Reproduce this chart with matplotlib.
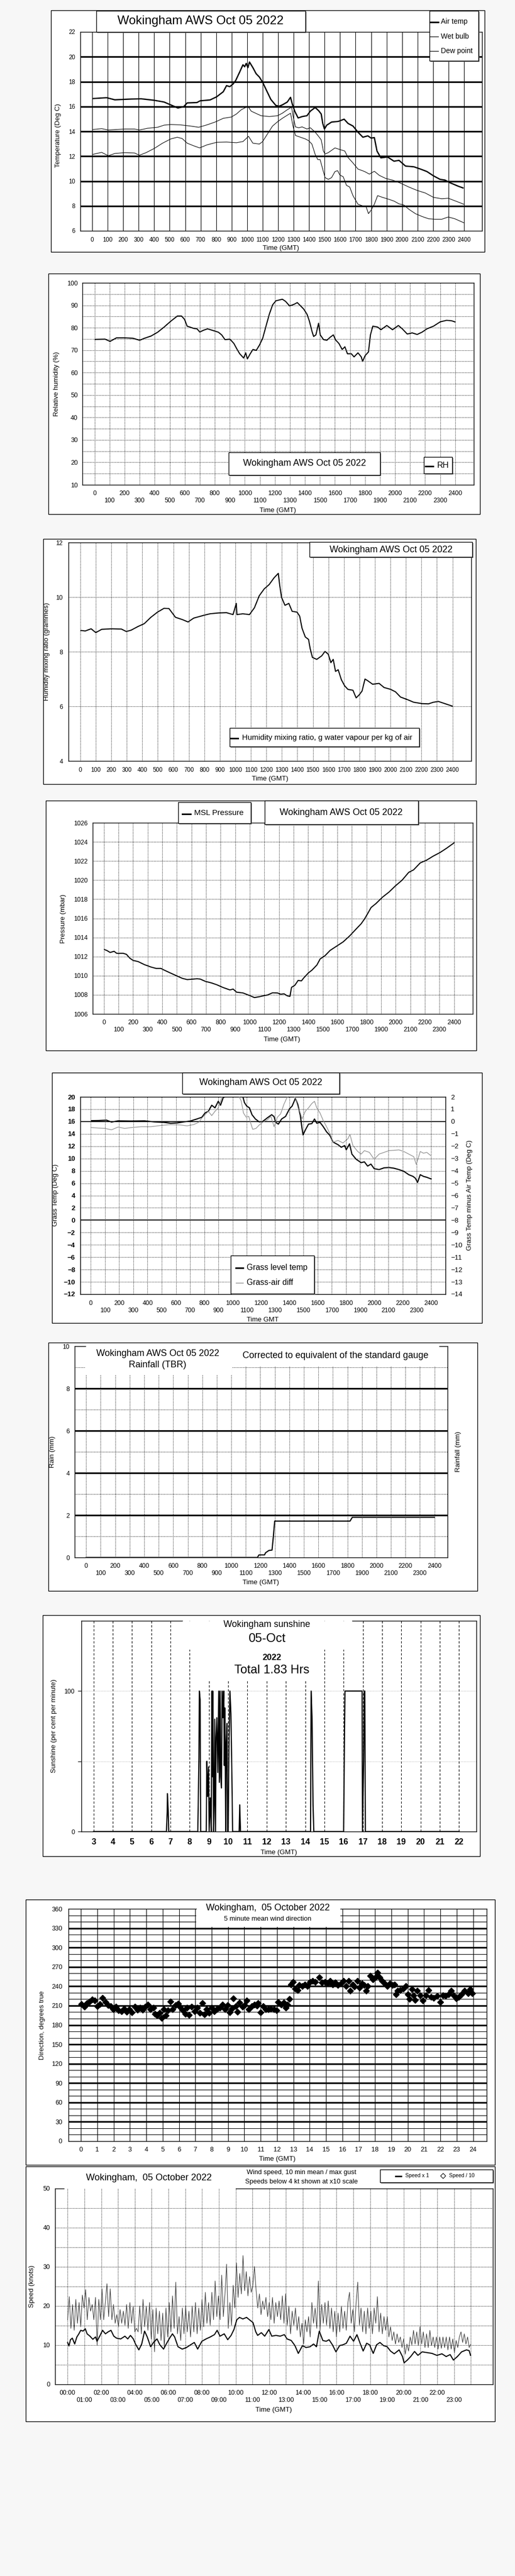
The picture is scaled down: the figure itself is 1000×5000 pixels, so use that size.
import numpy as np
import matplotlib
matplotlib.use("Agg")
import matplotlib.pyplot as plt
from matplotlib.patches import Rectangle
from matplotlib.lines import Line2D

plt.rcParams['font.family'] = ['Liberation Sans', 'DejaVu Sans']

# -----------------------------
# Data (time axis 0..2400 = hhmm style, 100 per hour)
# -----------------------------
air_t = [4, 93, 146, 252, 316, 401, 464, 507, 553, 591, 613, 676, 697, 761, 803, 846, 867, 888, 909, 926,
         952, 973, 984, 994, 1005, 1015, 1037, 1058, 1079, 1100, 1121, 1153, 1185, 1206, 1227, 1259, 1280,
         1291, 1308, 1329, 1355, 1386, 1408, 1439, 1461, 1478, 1488, 1499, 1514, 1545, 1588, 1626, 1651,
         1683, 1715, 1747, 1779, 1800, 1821, 1838, 1863, 1906, 1948, 1980, 2022, 2076, 2118, 2160, 2203,
         2245, 2277, 2309, 2362, 2393]
air_temp = [16.64, 16.71, 16.54, 16.6, 16.62, 16.5, 16.36, 16.13, 15.88, 15.99, 16.29, 16.32, 16.46, 16.53,
            16.78, 17.19, 17.68, 17.6, 17.81, 18.09, 18.78, 19.36, 19.2, 19.47, 19.13, 19.58, 19.13, 18.64,
            18.37, 17.95, 17.4, 16.57, 16.09, 16.02, 16.13, 16.36, 16.74, 16.22, 15.6, 15.08, 15.19, 15.26,
            15.63, 15.92, 15.67, 15.4, 14.64, 14.19, 14.5, 14.75, 14.8, 14.98, 14.64, 14.43, 13.94, 13.53,
            13.64, 13.46, 13.5, 12.42, 11.87, 11.94, 11.6, 11.67, 11.21, 11.15, 10.97, 10.77, 10.42, 10.14,
            10.08, 9.87, 9.59, 9.45]

wb_t = [4, 61, 104, 210, 273, 305, 358, 422, 464, 507, 570, 634, 687, 740, 793, 846, 899, 931, 962, 984,
        1005, 1026, 1058, 1090, 1143, 1196, 1227, 1259, 1287, 1297, 1312, 1333, 1355, 1386, 1408, 1439, 1461,
        1478, 1492, 1503, 1524, 1567, 1598, 1630, 1651, 1683, 1715, 1758, 1789, 1821, 1853, 1895, 1938, 1991,
        2044, 2097, 2150, 2203, 2256, 2298, 2340, 2398]
wet_bulb = [14.15, 14.22, 14.11, 14.19, 14.19, 14.11, 14.25, 14.33, 14.5, 14.55, 14.52, 14.43, 14.33, 14.52,
            14.75, 15.05, 15.16, 15.4, 15.74, 15.88, 16.02, 15.63, 15.44, 15.26, 15.19, 15.26, 15.46, 15.74,
            15.95, 15.19, 14.36, 14.29, 14.36, 14.19, 14.29, 13.94, 13.6, 13.32, 12.42, 12.18, 12.29, 12.67,
            12.54, 12.42, 11.9, 11.46, 10.97, 10.77, 10.56, 10.79, 10.46, 10.21, 10.08, 9.83, 9.52, 9.25,
            9.04, 8.69, 8.58, 8.62, 8.42, 8.14]

dp_t = [4, 61, 104, 146, 210, 273, 305, 348, 401, 454, 507, 549, 581, 613, 655, 693, 740, 803, 867, 931,
        973, 1009, 1037, 1079, 1100, 1132, 1164, 1196, 1227, 1259, 1280, 1297, 1312, 1344, 1376, 1397, 1418,
        1439, 1456, 1471, 1486, 1503, 1524, 1545, 1567, 1584, 1598, 1620, 1641, 1662, 1683, 1715, 1747, 1768,
        1783, 1800, 1821, 1842, 1874, 1916, 1948, 1980, 2012, 2044, 2086, 2129, 2171, 2213, 2256, 2298,
        2340, 2398]
dew_point = [12.15, 12.31, 12.04, 12.22, 12.29, 12.26, 12.08, 12.29, 12.63, 13.05, 13.39, 13.53, 13.42,
             13.05, 12.84, 12.67, 12.91, 13.12, 13.14, 13.09, 13.18, 13.6, 13.05, 12.98, 13.18, 13.81, 14.43,
             14.77, 15.05, 15.3, 15.46, 14.36, 13.67, 13.53, 13.39, 13.25, 12.98, 12.15, 11.73, 11.73, 11.04,
             10.28, 10.14, 10.28, 10.77, 10.84, 10.49, 10.35, 9.66, 9.52, 8.83, 8.14, 8.0, 7.93, 7.38, 7.66,
             8.14, 8.83, 8.69, 8.53, 8.39, 8.17, 8.07, 7.73, 7.38, 7.15, 6.97, 6.93, 6.93, 7.11, 6.97, 6.65]

rh_t = [4, 70, 103, 146, 201, 256, 300, 332, 376, 420, 463, 507, 551, 579, 599, 616, 660, 682, 700, 726,
        752, 791, 824, 846, 868, 901, 927, 949, 966, 992, 1006, 1017, 1036, 1054, 1076, 1097, 1119, 1141,
        1163, 1185, 1207, 1250, 1272, 1298, 1327, 1349, 1370, 1392, 1414, 1430, 1447, 1458, 1473, 1491,
        1502, 1524, 1546, 1567, 1589, 1605, 1626, 1648, 1666, 1683, 1709, 1727, 1753, 1775, 1784, 1801,
        1823, 1836, 1852, 1884, 1906, 1945, 1983, 2022, 2048, 2081, 2114, 2147, 2179, 2212, 2256, 2300,
        2343, 2376, 2398]
rh = [74.8, 74.9, 73.9, 75.5, 75.5, 75.3, 74.4, 75.3, 76.3, 78.0, 80.3, 82.9, 85.2, 85.2, 83.7, 80.7, 79.7,
      79.5, 78.1, 78.9, 79.5, 78.7, 78.0, 76.8, 74.7, 74.9, 73.0, 70.3, 68.4, 66.5, 68.8, 66.1, 68.4, 70.3,
      69.9, 72.2, 75.3, 80.7, 86.0, 90.2, 92.0, 92.7, 91.7, 89.7, 90.4, 91.2, 89.8, 88.3, 86.0, 82.9, 78.4,
      76.1, 76.8, 82.0, 76.8, 74.7, 74.4, 75.7, 76.8, 74.5, 73.0, 70.3, 71.5, 68.4, 68.4, 67.0, 68.8, 67.0,
      65.0, 67.6, 69.2, 76.8, 80.7, 80.3, 79.1, 81.0, 79.1, 81.0, 79.5, 77.2, 77.7, 77.0, 78.0, 79.5, 80.7,
      82.6, 83.3, 83.1, 82.6]

mix_t = [4, 32, 70, 100, 138, 201, 265, 297, 328, 371, 413, 455, 498, 540, 572, 593, 614, 657, 695, 731,
         794, 837, 890, 943, 985, 1006, 1010, 1048, 1091, 1123, 1154, 1186, 1218, 1250, 1277, 1286, 1298,
         1320, 1345, 1366, 1398, 1415, 1430, 1451, 1472, 1483, 1497, 1525, 1557, 1578, 1599, 1616, 1631,
         1646, 1663, 1684, 1705, 1726, 1758, 1779, 1800, 1817, 1836, 1853, 1885, 1927, 1959, 2002, 2033,
         2065, 2108, 2150, 2203, 2245, 2277, 2309, 2340, 2372, 2398]
mix = [8.78, 8.76, 8.84, 8.70, 8.82, 8.84, 8.83, 8.74, 8.79, 8.92, 9.03, 9.26, 9.45, 9.59, 9.58, 9.42, 9.26,
       9.18, 9.09, 9.23, 9.33, 9.39, 9.42, 9.43, 9.36, 9.77, 9.36, 9.39, 9.36, 9.61, 10.05, 10.30, 10.46,
       10.71, 10.87, 10.43, 9.99, 9.70, 9.77, 9.48, 9.45, 9.30, 8.86, 8.54, 8.45, 8.10, 7.79, 7.72, 7.85,
       8.01, 7.91, 7.60, 7.72, 7.28, 7.34, 6.97, 6.75, 6.62, 6.59, 6.31, 6.43, 6.56, 7.0, 6.94, 6.81, 6.84,
       6.69, 6.62, 6.53, 6.34, 6.25, 6.15, 6.10, 6.09, 6.15, 6.18, 6.12, 6.06, 6.01]

pres_t = [4, 20, 43, 70, 88, 133, 155, 178, 200, 234, 279, 324, 358, 391, 414, 459, 504, 538, 571, 605, 639,
          661, 695, 740, 774, 819, 864, 886, 909, 954, 999, 1032, 1066, 1100, 1122, 1156, 1190, 1212, 1235,
          1257, 1275, 1286, 1309, 1331, 1354, 1370, 1403, 1426, 1460, 1482, 1516, 1550, 1595, 1640, 1685,
          1729, 1763, 1786, 1808, 1831, 1864, 1909, 1954, 1999, 2044, 2089, 2123, 2168, 2213, 2258, 2303,
          2348, 2400]
pressure = [1012.73, 1012.64, 1012.43, 1012.55, 1012.34, 1012.34, 1012.23, 1011.83, 1011.6, 1011.48, 1011.15,
            1010.9, 1010.76, 1010.76, 1010.58, 1010.26, 1009.95, 1009.72, 1009.59, 1009.63, 1009.68, 1009.64,
            1009.41, 1009.23, 1009.05, 1008.75, 1008.51, 1008.6, 1008.28, 1008.19, 1007.92, 1007.71, 1007.8,
            1007.92, 1007.98, 1008.21, 1008.19, 1008.06, 1008.1, 1007.89, 1007.83, 1008.78, 1009.0, 1009.5,
            1009.46, 1009.77, 1010.31, 1010.58, 1011.12, 1011.75, 1012.1, 1012.64, 1013.09, 1013.54, 1014.17,
            1014.89, 1015.43, 1015.93, 1016.5, 1017.13, 1017.54, 1018.21, 1018.75, 1019.41, 1020.0, 1020.81,
            1021.08, 1021.8, 1022.1, 1022.52, 1022.88, 1023.33, 1023.9]

grass_t = [5, 53, 111, 146, 192, 285, 378, 447, 517, 563, 609, 656, 702, 748, 783, 806, 829, 853, 876, 899,
           915, 934, 945, 957, 1026, 1073, 1084, 1100, 1119, 1137, 1161, 1188, 1212, 1246, 1276, 1293, 1304,
           1323, 1346, 1374, 1402, 1420, 1443, 1460, 1478, 1490, 1497, 1513, 1536, 1559, 1578, 1594, 1617,
           1640, 1663, 1686, 1710, 1744, 1767, 1791, 1802, 1825, 1842, 1872, 1907, 1930, 1953, 1976, 1999,
           2034, 2069, 2104, 2138, 2173, 2208, 2243, 2273, 2289, 2305, 2324, 2347, 2370, 2400]
grass_temp = [16.14, 16.16, 16.22, 15.91, 16.11, 16.08, 16.11, 15.94, 15.86, 15.72, 15.77, 15.94, 16.08,
              16.41, 16.69, 17.39, 17.66, 18.64, 18.22, 19.28, 18.64, 19.89, 20.0, 20.4, 20.6, 20.0, 19.05,
              18.5, 18.22, 17.11, 16.41, 15.94, 16.0, 16.61, 17.11, 16.78, 15.86, 15.58, 16.41, 16.83, 18.08,
              18.5, 19.75, 18.78, 16.97, 14.88, 13.83, 14.61, 15.58, 15.66, 16.41, 15.72, 15.86, 15.16, 14.33,
              13.77, 12.66, 12.24, 11.83, 12.1, 11.41, 12.38, 10.71, 9.88, 9.33, 9.46, 8.77, 9.1, 8.35, 8.21,
              8.49, 8.54, 8.43, 8.21, 7.93, 7.38, 7.1, 6.82, 6.13, 7.38, 7.1, 6.96, 6.69]

diff_t = [5, 53, 100, 146, 192, 239, 285, 355, 424, 493, 563, 632, 679, 725, 760, 783, 806, 829, 853, 876,
          899, 922, 934, 980, 1038, 1061, 1077, 1096, 1114, 1130, 1142, 1165, 1188, 1212, 1246, 1270, 1293,
          1316, 1339, 1362, 1386, 1397, 1420, 1443, 1462, 1478, 1490, 1513, 1536, 1559, 1578, 1594, 1617,
          1640, 1663, 1686, 1710, 1744, 1779, 1814, 1828, 1849, 1883, 1907, 1930, 1965, 1999, 2034, 2069,
          2104, 2138, 2173, 2208, 2243, 2278, 2296, 2324, 2347, 2370, 2400]
grass_air_diff = [-0.49, -0.53, -0.56, -0.67, -0.45, -0.56, -0.49, -0.42, -0.42, -0.32, -0.25, -0.28, -0.35,
                  -0.25, -0.07, 0.28, 0.55, 0.83, 0.48, 0.83, 1.11, 1.87, 2.3, 2.5, 2.2, 1.67, 0.69, 0.35,
                  0.42, -0.21, -0.63, -0.56, -0.28, -0.07, 0.14, 0.42, -0.42, 0.35, 0.62, 1.39, 2.0, 2.3, 2.15,
                  1.94, 1.11, 0.69, 0.21, 0.83, 1.11, 1.46, 1.64, 1.11, 0.69, 0.07, -0.42, -0.97, -1.67, -1.53,
                  -1.74, -1.39, -1.04, -1.95, -2.43, -2.64, -2.36, -2.5, -3.06, -2.64, -2.5, -2.36, -2.34, -2.3,
                  -2.43, -2.64, -2.85, -3.48, -2.43, -2.57, -2.5, -2.78]

rain_t = [0, 1180, 1191, 1229, 1236, 1259, 1281, 1290, 1299, 1818, 1834, 2400]
rain_mm = [0, 0, 0.12, 0.12, 0.22, 0.33, 0.35, 1.0, 1.72, 1.72, 1.9, 1.9]

# sunshine, hours GMT
sun_hr = [3.0, 6.79, 6.83, 6.84, 6.88, 6.91, 8.42, 8.45, 8.48, 8.5, 8.54, 8.57, 8.86, 8.89, 8.93, 8.98,
          9.01, 9.07, 9.12, 9.15, 9.18, 9.2, 9.24, 9.27, 9.3, 9.34, 9.37, 9.41, 9.46, 9.51, 9.54, 9.58, 9.61,
          9.65, 9.68, 9.73, 9.77, 9.8, 9.83, 9.87, 9.9, 9.94, 9.97, 10.0, 10.04, 10.09, 10.14, 10.19, 10.23,
          10.57, 10.6, 10.64, 14.28, 14.31, 14.36, 14.41, 14.45, 16.0, 16.04, 16.07, 16.96, 16.98, 17.04,
          17.07, 17.1, 17.13, 22.0]
sun_pct = [0, 0, 14, 27, 15, 0, 0, 26, 52, 100, 94, 0, 0, 50, 25, 46, 0, 24, 0, 100, 39, 100, 0, 19, 80, 0,
           67, 81, 42, 100, 35, 100, 39, 31, 100, 81, 100, 47, 88, 0, 63, 77, 0, 0, 61, 100, 84, 42, 0, 0, 19,
           0, 0, 100, 80, 19, 0, 0, 63, 100, 100, 0, 50, 100, 100, 0, 0]

# 5 minute mean wind direction, hours GMT
dir_hr = [0.03, 0.20, 0.36, 0.52, 0.68, 0.85, 1.01, 1.17, 1.33, 1.50, 1.66, 1.82, 1.99, 2.15, 2.31, 2.47,
          2.64, 2.80, 2.96, 3.12, 3.29, 3.45, 3.61, 3.77, 3.94, 4.10, 4.26, 4.43, 4.54, 4.67, 4.83, 4.93,
          5.08, 5.19, 5.32, 5.48, 5.61, 5.78, 5.94, 6.05, 6.22, 6.38, 6.49, 6.62, 6.78, 6.95, 7.11, 7.27,
          7.44, 7.57, 7.68, 7.84, 8.01, 8.17, 8.33, 8.49, 8.66, 8.82, 8.98, 9.11, 9.23, 9.32, 9.47, 9.58,
          9.71, 9.88, 10.01, 10.15, 10.28, 10.45, 10.61, 10.77, 10.85, 10.98, 11.15, 11.31, 11.47, 11.63,
          11.80, 11.96, 12.07, 12.24, 12.40, 12.53, 12.64, 12.76, 12.84, 12.97, 13.10, 13.26, 13.37, 13.54,
          13.70, 13.86, 14.03, 14.19, 14.35, 14.59, 14.76, 14.92, 15.08, 15.25, 15.41, 15.57, 15.73, 15.90,
          16.06, 16.22, 16.38, 16.48, 16.63, 16.74, 16.91, 17.04, 17.20, 17.33, 17.44, 17.56, 17.72, 17.85,
          18.01, 18.14, 18.26, 18.42, 18.58, 18.74, 18.91, 19.07, 19.18, 19.28, 19.39, 19.55, 19.72, 19.88,
          20.00, 20.09, 20.26, 20.37, 20.45, 20.58, 20.75, 20.91, 21.10, 21.27, 21.43, 21.59, 21.79, 21.98,
          22.16, 22.32, 22.49, 22.65, 22.81, 22.97, 23.14, 23.30, 23.46, 23.71, 23.82, 23.95]
dir_deg = [212, 208, 214, 216.5, 219.6, 217.6, 209, 212, 221.7, 215.7, 210.5, 209, 204.5, 208, 202.7, 201.4,
           205.3, 200, 204, 199.3, 208, 203.5, 206.6, 203.5, 208, 211.8, 204, 206.6, 197.5, 194.9, 198.8, 191,
           204, 194.9, 202.7, 216.5, 204, 210.5, 213, 208, 202.7, 197.5, 206.6, 195.6, 208, 201.4, 206.6,
           198.8, 214, 196.6, 204.5, 198.8, 206.6, 201.4, 204, 206.6, 211.8, 204, 210.5, 199.6, 205.3, 221,
           209, 200, 215, 208, 210.5, 217.8, 204, 209, 211.8, 209.7, 214, 199.3, 209, 204, 204, 205.3, 204,
           202.7, 215.7, 211.8, 214.4, 206.6, 211.8, 220, 243, 247, 236.6, 234, 241.8, 240.5, 243, 240.5, 247,
           248.3, 247, 253.6, 245.7, 247, 244.4, 248.3, 243, 245.7, 241.8, 244.4, 248.3, 240.5, 248.3, 233.2,
           243, 239.2, 248.3, 237.9, 244.4, 241.8, 232.7, 240.5, 256.2, 251, 253.6, 261.4, 253.6, 248.3,
           244.4, 240.5, 244.4, 241.8, 243, 227.5, 232.7, 234, 236.6, 240.5, 227.5, 220, 235.3, 226.2, 219,
           232.7, 226.2, 217.6, 226.2, 234, 223.6, 222.3, 224.9, 215.7, 226.2, 224.9, 227.5, 232.7, 226.2,
           221, 223.6, 227.5, 232.7, 228.8, 235.3, 228.8]

# 10 min mean wind speed, hours GMT
mean_hr = [0.0, 0.08, 0.17, 0.28, 0.42, 0.55, 0.67, 0.78, 0.92, 1.05, 1.16, 1.33, 1.5, 1.66, 1.75, 1.91,
           2.08, 2.25, 2.41, 2.58, 2.75, 2.91, 3.16, 3.41, 3.58, 3.74, 3.91, 4.04, 4.24, 4.41, 4.58, 4.74,
           4.94, 5.11, 5.32, 5.49, 5.71, 5.87, 6.07, 6.24, 6.37, 6.57, 6.82, 7.07, 7.32, 7.54, 7.74, 7.99,
           8.24, 8.49, 8.74, 8.9, 9.07, 9.32, 9.53, 9.73, 9.9, 10.07, 10.23, 10.43, 10.65, 10.82, 11.03, 11.2,
           11.31, 11.53, 11.73, 11.98, 12.15, 12.4, 12.65, 12.9, 13.06, 13.31, 13.53, 13.73, 13.98, 14.19,
           14.43, 14.64, 14.81, 14.98, 15.19, 15.39, 15.56, 15.76, 15.97, 16.19, 16.39, 16.59, 16.81, 17.02,
           17.22, 17.39, 17.59, 17.8, 17.97, 18.19, 18.39, 18.59, 18.8, 19.02, 19.22, 19.44, 19.73, 19.93,
           20.03, 20.22, 20.42, 20.65, 20.85, 21.1, 21.4, 21.69, 21.98, 22.28, 22.53, 22.77, 22.96, 23.2,
           23.45, 23.74, 23.9, 23.98]
mean_kt = [10.7, 9.8, 11.4, 11.8, 10.3, 12.1, 12.9, 13.8, 13.6, 14.2, 12.9, 12.3, 11.5, 12.1, 11.0, 12.3,
           13.8, 12.9, 13.4, 13.8, 12.3, 11.8, 11.6, 12.3, 11.6, 12.5, 11.6, 10.3, 8.8, 10.3, 13.6, 12.1, 9.6,
           10.7, 11.6, 10.1, 9.0, 10.3, 11.8, 12.9, 12.1, 9.6, 9.0, 9.4, 10.1, 10.7, 9.0, 11.0, 11.6, 12.1,
           12.7, 13.8, 12.3, 12.9, 11.4, 12.5, 14.0, 16.5, 17.1, 16.7, 17.1, 16.5, 15.8, 13.4, 12.5, 13.2,
           12.3, 14.0, 12.3, 12.5, 12.3, 12.7, 11.6, 11.2, 9.9, 7.9, 9.9, 9.4, 9.6, 10.3, 9.6, 13.6, 11.2,
           11.0, 11.4, 10.1, 8.3, 9.9, 10.1, 10.5, 12.3, 11.0, 12.7, 10.7, 8.5, 10.5, 10.1, 7.9, 10.1, 10.7,
           9.9, 9.6, 8.5, 7.8, 8.8, 7.1, 5.5, 6.2, 7.1, 8.4, 7.4, 8.3, 8.1, 7.9, 7.4, 7.8, 7.1, 7.6, 6.2, 7.1,
           8.3, 8.8, 8.6, 7.4]

# max gust, sampled about every 6 minutes from 00:00 to 24:00
gust_kt = [16.5, 22.4, 14.3, 20.4, 13.8, 21.7, 15.6, 20.9, 14.7, 22.8, 19.5, 24.2, 16.5, 22.2, 18.7, 20.4,
           16.5,
           22.2, 9.9, 21.7, 16.5, 24.4, 16.5, 20.9, 25.7, 17.3, 24.4,
           16.5, 20.4, 15.6, 17.8, 14.7, 19.1, 15.6, 18.7, 15.1, 20.4,
           14.3, 20.9, 15.6, 20, 13.4, 14.3, 13.4, 20, 12.9, 21.7,
           14.7, 20, 13.8, 20.9, 11.6, 19.1, 8.3, 19.5, 12.9, 18.7,
           11.2, 18.2, 9.4, 19.5, 12.1, 20.9, 13.4, 22.6, 14.3, 26.1,
           12.9, 17.3, 11.2, 19.5, 12.9, 20, 13.4, 18.7, 12.1, 20,
           13.4, 20.9, 12.9, 19.5, 13.8, 21.7, 14.7, 23.5, 15.6, 20.9,
           15.1, 23.5, 16.5, 26.4, 17.3, 22.6, 16.5, 27.9, 17.3, 23.1,
           30.7, 14.3, 20.9, 15.1, 25.3, 19.5, 31.0, 22.2, 28.3, 23.1,
           32.9, 23.9, 28.8, 22.6, 27.5, 23.5, 25.3, 30.1, 23.9, 19.5,
           23.1, 17.8, 21.3, 19.1, 22.2, 17.3, 20.9, 16.5, 22.2, 15.6,
           20.9, 17.3, 21.3, 16.5, 22.6, 15.6, 23.1, 15.1, 20, 12.9,
           18.7, 15.1, 19.5, 13.8, 17.3, 12.1, 15.6, 10.3, 16.5, 13.4,
           17.3, 12.1, 20.9, 15.6, 19.5, 14.3, 26.4, 13.8, 20.4, 15.6,
           20.9, 15.1, 21.3, 14.3, 19.5, 13.4, 18.7, 12.1, 18.2, 13.4,
           20, 14.3, 18.7, 13.8, 20.9, 23.5, 15.6, 19.1, 13.4, 20.9,
           26.1, 15.1, 19.5, 13.4, 18.7, 12.9, 19.5, 14.3, 18.7, 12.9,
           19.5, 15.6, 22.4, 13.4, 18.2, 12.9, 17.3, 13.8, 17.3, 12.1,
           14.7, 11.2, 13.4, 10.3, 12.9, 10.7, 12.1, 9.4, 11.6, 7.7,
           10.3, 8.5, 12.1, 10.1, 13.8, 10.3, 13.4, 9.9, 14.7, 10.3,
           13.4, 9.4, 12.9, 9.4, 13.8, 9.9, 12.1, 9.4, 12.1, 9.0,
           12.1, 9.2, 12.1, 9.4, 12.1, 8.8, 12.1, 9.0, 11.6, 8.1,
           11.2, 9.4, 12.1, 13.4, 10.7, 12.9, 10.3, 12.1, 9.4, 10.3]
gust_hr = np.linspace(0, 24, len(gust_kt))

hhmm_ticks = list(range(0, 2401, 100))
sun_ticks = list(range(3, 23))
dir_ticks_x = list(range(0, 25))
speed_ticks_x = list(range(0, 24))

# -----------------------------
# Layout helpers (pixel coordinates on a 1000 x 5000 canvas)
# -----------------------------
W, H = 1000, 5000
BG = '#f7f7f7'
TICK = 8.7
LAB = 9.5
PT = 72 / 100.0  # points per pixel

fig = plt.figure(figsize=(10, 50), dpi=100)
fig.patch.set_facecolor(BG)


def frac(x0, y0, x1, y1):
    return [x0 / W, 1 - y1 / H, (x1 - x0) / W, (y1 - y0) / H]


def add_box(x0, y0, x1, y1, z=-5, ec='black', lw=1.0, fc='white', shadow=0):
    if shadow:
        fig.add_artist(Rectangle(((x0 + shadow) / W, 1 - (y1 + shadow) / H), (x1 - x0) / W, (y1 - y0) / H,
                                 transform=fig.transFigure, fc='#707070', ec='none', zorder=z - 0.5))
    fig.add_artist(Rectangle((x0 / W, 1 - y1 / H), (x1 - x0) / W, (y1 - y0) / H,
                             transform=fig.transFigure, fc=fc, ec=ec, lw=lw, zorder=z))


def ftxt(x, y, s, size, ha='center', va='center', **kw):
    fig.text(x / W, 1 - y / H, s, fontsize=size, ha=ha, va=va, zorder=20, **kw)


def fline(x0, x1, y, **kw):
    fig.add_artist(Line2D([x0 / W, x1 / W], [1 - y / H, 1 - y / H], transform=fig.transFigure,
                          zorder=20, **kw))


def new_ax(x0, y0, x1, y1):
    ax = fig.add_axes(frac(x0, y0, x1, y1))
    ax.set_facecolor('white')
    for s in ax.spines.values():
        s.set_linewidth(1.0)
    ax.tick_params(length=0, labelsize=TICK)
    return ax


def two_rows(vals, fmt=str):
    return [fmt(v) if i % 2 == 0 else '\n' + fmt(v) for i, v in enumerate(vals)]


def top_spine_gap(ax, x0, x1, gx0, gx1):
    # draw top border except between gx0..gx1 (pixels)
    ax.spines['top'].set_visible(False)
    w = x1 - x0
    for a, b in [(0, (gx0 - x0) / w), ((gx1 - x0) / w, 1)]:
        ax.plot([a, b], [1, 1], transform=ax.transAxes, color='black', lw=1.0, clip_on=False, zorder=6)


DOT = (0, (1, 1.6))

# =============================
# Panel 1: temperatures
# =============================
add_box(99, 20, 941, 489)
ax = new_ax(156, 62, 936, 448)
ax.set_xlim(-76.5, 2516)
ax.set_ylim(6, 22)
ax.vlines(hhmm_ticks, 6, 22, colors='black', lw=0.8, zorder=1)
ax.hlines(range(8, 21, 2), -76.5, 2516, colors='black', lw=2.3, zorder=1)
ax.plot(air_t, air_temp, color='black', lw=1.8, zorder=3)
ax.plot(wb_t, wet_bulb, color='black', lw=0.8, zorder=3)
ax.plot(dp_t, dew_point, color='black', lw=0.8, zorder=3)
ax.set_xticks(hhmm_ticks)
ax.set_xticklabels([str(v) for v in hhmm_ticks])
ax.set_yticks(range(6, 23, 2))
ax.tick_params(axis='x', pad=12 * PT, labelsize=8.3)
ax.tick_params(axis='y', pad=10 * PT, labelsize=8.3)
add_box(187, 21, 593, 62, z=5, shadow=2)
ftxt(389, 41, 'Wokingham AWS Oct 05 2022', 17.3)
add_box(834, 21, 929, 118, z=5, shadow=2)
fline(835, 851, 43, color='black', lw=2.2)
fline(835, 851, 71, color='black', lw=0.9)
fline(835, 851, 99, color='black', lw=0.9)
ftxt(856, 42, 'Air temp', 10, ha='left')
ftxt(856, 71, 'Wet bulb', 10, ha='left')
ftxt(856, 99, 'Dew point', 10, ha='left')
ftxt(113, 263, 'Temperature (Deg C)', LAB, rotation=90)
ftxt(545, 482, 'Time (GMT)', LAB)

# =============================
# Panel 2: relative humidity
# =============================
add_box(94, 531, 932, 998)
ax = new_ax(160, 549, 920, 941)
ax.set_xlim(-81, 2524)
ax.set_ylim(10, 100)
ax.vlines(hhmm_ticks, 10, 100, colors='black', lw=0.8, linestyles=DOT, zorder=1)
ax.hlines(range(15, 100, 5), -81, 2524, colors='black', lw=0.8, linestyles=DOT, zorder=1)
ax.plot(rh_t, rh, color='black', lw=1.5, zorder=3)
ax.set_xticks(hhmm_ticks)
ax.set_xticklabels(two_rows(hhmm_ticks))
ax.set_yticks(range(10, 101, 10))
ax.tick_params(axis='x', pad=11 * PT)
ax.tick_params(axis='y', pad=9 * PT, labelsize=9)
add_box(444, 878, 738, 922, z=5, shadow=2)
ftxt(591, 900, 'Wokingham AWS Oct 05 2022', 12.8)
add_box(823, 887, 878, 919, z=5, shadow=2)
fline(826, 841, 905, color='black', lw=2.2)
ftxt(849, 904, 'RH', 11.5, ha='left')
ftxt(110, 745, 'Relative humidity (%)', LAB, rotation=90)
ftxt(539, 991, 'Time (GMT)', LAB)

# =============================
# Panel 3: humidity mixing ratio
# =============================
add_box(84, 1046, 924, 1522)
ax = new_ax(133, 1053, 915, 1477)
ax.set_xlim(-76, 2521)
ax.set_ylim(4, 12)
ax.vlines(hhmm_ticks, 4, 12, colors='black', lw=0.8, linestyles=DOT, zorder=1)
ax.hlines([6, 8, 10], -76, 2521, colors='black', lw=0.8, linestyles=DOT, zorder=1)
ax.plot(mix_t, mix, color='black', lw=1.5, zorder=3)
ax.set_xticks(hhmm_ticks)
ax.set_xticklabels([str(v) for v in hhmm_ticks])
ax.set_yticks(range(4, 13, 2))
ax.tick_params(axis='x', pad=12 * PT, labelsize=8.3)
ax.tick_params(axis='y', pad=11 * PT)
add_box(601, 1052, 917, 1081, z=5, shadow=2)
ftxt(759, 1067, 'Wokingham AWS Oct 05 2022', 12.8)
add_box(446, 1413, 814, 1449, z=5, shadow=2)
fline(448, 462, 1433, color='black', lw=2.2)
ftxt(470, 1432, 'Humidity mixing ratio, g water vapour per kg of air', 10.8, ha='left')
ftxt(91, 1265, 'Humidity mixing ratio (grammes)', LAB, rotation=90)
ftxt(524, 1512, 'Time (GMT)', LAB)

# =============================
# Panel 4: pressure
# =============================
add_box(89, 1554, 925, 2039)
ax = new_ax(180, 1597, 918, 1968)
ax.set_xlim(-76.5, 2528)
ax.set_ylim(1006, 1026)
ax.vlines(hhmm_ticks, 1006, 1026, colors='black', lw=0.8, linestyles=DOT, zorder=1)
ax.hlines(range(1008, 1026, 2), -76.5, 2528, colors='black', lw=0.8, linestyles=DOT, zorder=1)
ax.plot(pres_t, pressure, color='black', lw=1.5, zorder=3)
ax.set_xticks(hhmm_ticks)
ax.set_xticklabels(two_rows(hhmm_ticks))
ax.set_yticks(range(1006, 1027, 2))
ax.tick_params(axis='x', pad=11 * PT)
ax.tick_params(axis='y', pad=10 * PT)
add_box(346, 1557, 487, 1598, z=5, shadow=2)
fline(354, 370, 1580, color='black', lw=2.2)
ftxt(377, 1578, 'MSL Pressure', 11, ha='left')
add_box(514, 1554, 812, 1600, z=5, shadow=2)
ftxt(662, 1577, 'Wokingham AWS Oct 05 2022', 12.8)
ftxt(123, 1783, 'Pressure (mbar)', LAB, rotation=90)
ftxt(547, 2018, 'Time (GMT)', LAB)

# =============================
# Panel 5: grass temperature
# =============================
add_box(101, 2082, 936, 2568)
ax = new_ax(156, 2129, 865, 2512)
ax.set_xlim(-74, 2502)
ax.set_ylim(-12, 20)
ax.vlines(hhmm_ticks, -12, 20, colors='black', lw=0.8, linestyles=DOT, zorder=1)
ax.hlines([v for v in range(-10, 20, 2) if v not in (0, 16)], -74, 2502, colors='black', lw=0.8,
          linestyles=DOT, zorder=1)
ax.hlines([0, 16], -74, 2502, colors='black', lw=1.3, zorder=1)
ax.plot(grass_t, grass_temp, color='black', lw=1.6, zorder=4)
ax.set_xticks(hhmm_ticks)
ax.set_xticklabels(two_rows(hhmm_ticks))
ax.set_yticks(range(-12, 21, 2))
for lbl in ax.get_yticklabels():
    lbl.set_fontweight('bold')
ax.tick_params(axis='x', pad=12 * PT)
ax.tick_params(axis='y', pad=10 * PT, labelsize=9.5)
ax2 = ax.twinx()
ax2.set_ylim(-14, 2)
ax2.plot(diff_t, grass_air_diff, color='#8c8c8c', lw=0.9, zorder=3)
ax2.set_yticks(range(-14, 3, 1))
ax2.tick_params(length=0, labelsize=9.5, pad=10 * PT)
add_box(354, 2082, 659, 2123, z=5, shadow=2)
ftxt(506, 2102, 'Wokingham AWS Oct 05 2022', 12.8)
add_box(448, 2437, 610, 2511, z=5, shadow=2)
fline(458, 472, 2461, color='black', lw=2.2)
fline(458, 472, 2490, color='#8c8c8c', lw=1.0)
ftxt(479, 2460, 'Grass level temp', 11.3, ha='left')
ftxt(479, 2489, 'Grass-air diff', 11.3, ha='left')
ftxt(108, 2320, 'Grass Temp (Deg C)', LAB, rotation=90)
ftxt(912, 2320, 'Grass Temp minus Air Temp (Deg C)', LAB, rotation=90)
ftxt(510, 2562, 'Time GMT', LAB)

# =============================
# Panel 6: rainfall
# =============================
add_box(94, 2606, 927, 3088)
ax = new_ax(145, 2613, 869, 3023)
ax.set_xlim(-79, 2490)
ax.set_ylim(0, 10)
ax.vlines(hhmm_ticks, 0, 10, colors='black', lw=0.8, linestyles=DOT, zorder=1)
ax.hlines([1, 3, 5, 7, 9], -79, 2490, colors='black', lw=0.8, linestyles=DOT, zorder=1)
ax.hlines([2, 4, 6, 8], -79, 2490, colors='black', lw=2.3, zorder=1)
ax.plot(rain_t, rain_mm, color='black', lw=1.6, zorder=3)
ax.set_xticks(hhmm_ticks)
ax.set_xticklabels(two_rows(hhmm_ticks))
ax.set_yticks(range(0, 11, 2))
ax.tick_params(axis='x', pad=11 * PT)
ax.tick_params(axis='y', pad=10 * PT)
top_spine_gap(ax, 145, 869, 166, 853)
add_box(166, 2614, 450, 2668, z=5, ec='none')
add_box(450, 2614, 853, 2653, z=5, ec='none')
ftxt(306, 2627, 'Wokingham AWS Oct 05 2022', 12.8)
ftxt(306, 2649, 'Rainfall (TBR)', 12.8)
ftxt(651, 2631, 'Corrected to equivalent of the standard gauge', 12.8)
ftxt(102, 2818, 'Rain (mm)', LAB, rotation=90)
ftxt(890, 2818, 'Rainfall (mm)', LAB, rotation=90)
ftxt(506, 3072, 'Time (GMT)', LAB)

# =============================
# Panel 7: sunshine
# =============================
add_box(83, 3135, 932, 3603)
ax = new_ax(158, 3146, 925, 3555)
ax.set_xlim(2.368, 22.9)
ax.set_ylim(0, 150)
ax.vlines(sun_ticks, 0, 150, colors='black', lw=0.8, linestyles=(0, (4, 3)), zorder=1)
ax.hlines([50, 100], 2.368, 22.9, colors='#b0b0b0', lw=0.8, linestyles=DOT, zorder=1)
ax.plot(sun_hr, sun_pct, color='black', lw=1.6, zorder=3)
ax.set_xticks(sun_ticks)
ax.set_xticklabels([str(v) for v in sun_ticks], fontweight='bold')
ax.set_yticks([0, 50, 100])
ax.set_yticklabels(['0', '', '100'])
ax.tick_params(axis='x', pad=13 * PT, labelsize=11.5)
ax.tick_params(axis='y', length=5, direction='out', pad=6 * PT, labelsize=8.7)
top_spine_gap(ax, 158, 925, 354, 684)
add_box(354, 3147, 684, 3202, z=5, ec='none')
add_box(383, 3202, 612, 3262, z=5, ec='none')
ftxt(518, 3154, 'Wokingham sunshine', 12.7)
ftxt(518, 3181, '05-Oct', 17.3)
ftxt(528, 3217, '2022', 12, fontweight='bold')
ftxt(528, 3242, 'Total 1.83 Hrs', 17)
ftxt(105, 3350, 'Sunshine (per cent per minute)', LAB, rotation=90)
ftxt(541, 3596, 'Time (GMT)', LAB)

# =============================
# Panel 8: wind direction
# =============================
add_box(50, 3687, 961, 4202)
ax = new_ax(133, 3705, 945, 4156)
ax.set_xlim(-0.762, 24.83)
ax.set_ylim(0, 360)
ax.vlines(dir_ticks_x, 0, 360, colors='black', lw=0.8, zorder=1)
ax.hlines([v for v in range(10, 360, 10) if v % 30], -0.762, 24.83, colors='black', lw=0.8, zorder=1)
ax.hlines(range(30, 360, 30), -0.762, 24.83, colors='black', lw=2.3, zorder=1)
ax.plot(dir_hr, dir_deg, ls='none', marker='D', ms=6.0, color='black', zorder=3)
ax.set_xticks(dir_ticks_x)
ax.set_yticks(range(0, 361, 30))
ax.tick_params(axis='x', pad=11 * PT, labelsize=9.2)
ax.tick_params(axis='y', pad=12 * PT, labelsize=9)
top_spine_gap(ax, 133, 945, 381, 661)
add_box(381, 3706, 661, 3740, z=5, ec='none')
ftxt(520, 3704, 'Wokingham,  05 October 2022', 12.8)
ftxt(520, 3725, '5 minute mean wind direction', 9.4)
ftxt(82, 3931, 'Direction, degrees true', LAB, rotation=90)
ftxt(538, 4191, 'Time (GMT)', LAB)

# =============================
# Panel 9: wind speed
# =============================
add_box(50, 4205, 961, 4700)
ax = new_ax(107, 4248, 957, 4628)
ax.set_xlim(-0.745, 25.31)
ax.set_ylim(0, 50)
ax.vlines(dir_ticks_x, 0, 50, colors='black', lw=0.8, linestyles=DOT, zorder=1)
ax.hlines(range(5, 50, 5), -0.745, 25.31, colors='black', lw=0.8, linestyles=DOT, zorder=1)
ax.plot(gust_hr, gust_kt, color='#404040', lw=0.8, zorder=3)
ax.plot(mean_hr, mean_kt, color='black', lw=1.5, zorder=4)
ax.set_xticks(speed_ticks_x)
ax.set_xticklabels(two_rows(speed_ticks_x, lambda h: '%02d:00' % h))
ax.set_yticks(range(0, 51, 10))
ax.tick_params(axis='x', pad=11 * PT)
ax.tick_params(axis='y', pad=10 * PT)
top_spine_gap(ax, 107, 957, 124, 458)
ftxt(289, 4228, 'Wokingham,  05 October 2022', 13)
ftxt(585, 4217, 'Wind speed, 10 min mean / max gust', 9.3)
ftxt(585, 4235, 'Speeds below 4 kt shown at x10 scale', 9.3)
add_box(738, 4211, 957, 4236, z=5, shadow=2)
fline(768, 779, 4224, color='black', lw=2.0)
ftxt(787, 4223, 'Speed x 1', 7.4, ha='left')
fig.add_artist(Line2D([860 / W], [1 - 4223 / H], transform=fig.transFigure, marker='D', ms=5,
                      mfc='white', mec='black', mew=0.8, ls='none', zorder=20))
ftxt(872, 4223, 'Speed / 10', 7.4, ha='left')
ftxt(62, 4438, 'Speed (knots)', LAB, rotation=90)
ftxt(531, 4678, 'Time (GMT)', LAB)

fig.savefig('out.png', dpi=100, facecolor=BG)
